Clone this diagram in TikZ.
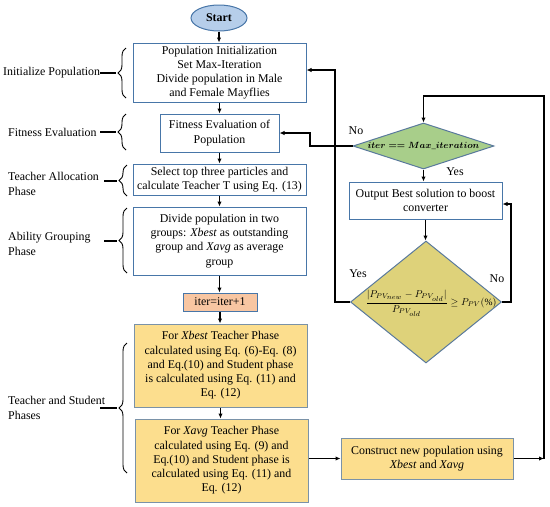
\documentclass[tikz,border=0pt]{standalone}
\usepackage{amsmath}
\usepackage{fontspec}
\setmainfont{Liberation Serif}
\usetikzlibrary{shapes.geometric,arrows.meta,decorations.pathreplacing,calc}
\definecolor{bblue}{RGB}{72,118,168}
\definecolor{startfill}{RGB}{182,206,234}
\definecolor{iterfill}{RGB}{248,198,162}
\definecolor{yfill}{RGB}{252,222,142}
\definecolor{yborder}{RGB}{122,146,168}
\definecolor{gfill}{RGB}{168,206,138}
\definecolor{ofill}{RGB}{222,210,122}
\begin{document}
\begin{tikzpicture}[x=1pt,y=-1pt,
  every node/.style={font=\fontsize{11.9}{14.2}\selectfont},
  box/.style={draw=bblue,line width=1pt,rectangle,align=center,inner sep=0pt},
  ybox/.style={box,draw=yborder,fill=yfill},
  dia/.style={draw=bblue!70!gray,line width=1pt,diamond,inner sep=0pt},
  arr/.style={-{Latex[length=5pt,width=4.5pt]},line width=1.1pt,black},
  ln/.style={line width=1.1pt,black},
  brc/.style={decorate,decoration={brace,amplitude=8pt},line width=0.9pt},
  lab/.style={anchor=west,align=left,inner sep=0pt}]
\useasboundingbox (0,0) rectangle (550,507);

% main column
\node[ellipse,draw=bblue,fill=startfill,line width=1pt,minimum width=56pt,minimum height=26pt,inner sep=0pt] (start) at (219,18) {\textbf{Start}};
\node[box,minimum width=173pt,minimum height=59pt] (b1) at (219.5,72.5) {Population Initialization\\Set Max-Iteration\\Divide population in Male\\and Female Mayflies};
\node[box,minimum width=119pt,minimum height=38pt] (b2) at (219.5,133) {Fitness Evaluation of\\Population};
\node[box,minimum width=173pt,minimum height=31pt] (b3) at (219.5,179.5) {Select top three particles and\\calculate Teacher T using Eq. (13)};
\node[box,minimum width=173pt,minimum height=68pt] (b4) at (219.5,241) {Divide population in two\\groups: \textit{Xbest} as outstanding\\group and \textit{Xavg} as average\\group};
\node[box,fill=iterfill,minimum width=74pt,minimum height=18pt] (it) at (220,302) {iter=iter+1};
\node[ybox,minimum width=173pt,minimum height=83pt] (y1) at (220.5,365.5) {For \textit{Xbest} Teacher Phase\\calculated using Eq. (6)-Eq. (8)\\and Eq.(10) and Student phase\\is calculated using Eq. (11) and\\Eq. (12)};
\node[ybox,minimum width=173pt,minimum height=83pt] (y2) at (221.5,460.5) {For \textit{Xavg} Teacher Phase\\calculated using Eq. (9) and\\Eq.(10) and Student phase is\\calculated using Eq. (11) and\\Eq. (12)};

% right column
\node[dia,fill=gfill,minimum width=141pt,minimum height=46pt] (d1) at (423.5,146) {};
\node[inner sep=0pt,font=\fontsize{8.6}{10}\selectfont] (d1t) at (d1) {$\boldsymbol{iter == Max\_iteration}$};
\node[box,minimum width=153pt,minimum height=37pt] (out) at (425.5,200.5) {Output Best solution to boost\\converter};
\node[dia,fill=ofill,minimum width=151pt,minimum height=122pt] (d2) at (426,302) {};
\node[inner sep=0pt,font=\fontsize{9.6}{11}\selectfont] (d2t) at (431,303) {$\dfrac{|P_{PV_{\scriptstyle new}}-P_{PV_{\scriptstyle old}}|}{P_{PV_{\scriptstyle old}}}\geq P_{PV}(\%)$};
\node[ybox,minimum width=172pt,minimum height=41pt] (cn) at (427,458.5) {Construct new population using\\\textit{Xbest} and \textit{Xavg}};

% labels
\node[inner sep=0pt] (no1) at (356,131) {No};
\node[inner sep=0pt] (yes1) at (455,172) {Yes};
\node[inner sep=0pt] (yes2) at (358,274) {Yes};
\node[inner sep=0pt] (no2) at (497,279) {No};

% main column arrows
\draw[arr] (start.south) -- (start.south |- b1.north);
\draw[arr] (b1.south) -- (b1.south |- b2.north);
\draw[arr] (b2.south) -- (b2.south |- b3.north);
\draw[arr] (b3.south) -- (b3.south |- b4.north);
\draw[arr] (b4.south) -- (b4.south |- it.north);
\draw[arr] (it.south) -- (it.south |- y1.north);
\draw[arr] (y1.south) -- (y1.south |- y2.north);
\draw[arr] (y2.east |- cn.west) -- (cn.west);

% right column
\coordinate (k1) at (310,146);
\draw[arr] (d1.west) -- (k1) |- (b2.east);
\draw[arr] (d1.south) -- (d1.south |- out.north);
\draw[arr] (out.south) -- (out.south |- d2.north);
\coordinate (k2) at (335,302);
\draw[arr] (d2.west) -- (k2) |- ($(b1.east)+(0,-2.5)$);
\coordinate (k3) at (511,302);
\draw[arr] (d2.east) -- (k3) |- ($(out.east)+(0,3.5)$);
\coordinate (r1) at (544,458.5);
\coordinate (r2) at (544,96);
\draw[arr] (cn.east) -- (r1);
\draw[arr] (r1) -- (r2) -| (d1.north);

% braces and left labels
\draw[brc] (126,98) -- (126,48);
\draw[ln] (100,73) -- (116,73);
\node[lab] (l1) at (3,73) {Initialize Population};
\draw[brc] (126,150) -- (126,114);
\draw[ln] (100,132) -- (116,132);
\node[lab] (l2) at (8,132) {Fitness Evaluation};
\draw[brc] (127,196) -- (127,165);
\draw[ln] (104,181) -- (117,181);
\node[lab] (l3) at (8,184) {Teacher Allocation\\Phase};
\draw[brc] (127,273) -- (127,208);
\draw[ln] (104,241) -- (117,241);
\node[lab] (l4) at (8,244) {Ability Grouping\\Phase};
\draw[brc] (127,473) -- (127,343);
\draw[ln] (100,408) -- (117,408);
\node[lab] (l5) at (8,408) {Teacher and Student\\Phases};
\end{tikzpicture}
\end{document}
